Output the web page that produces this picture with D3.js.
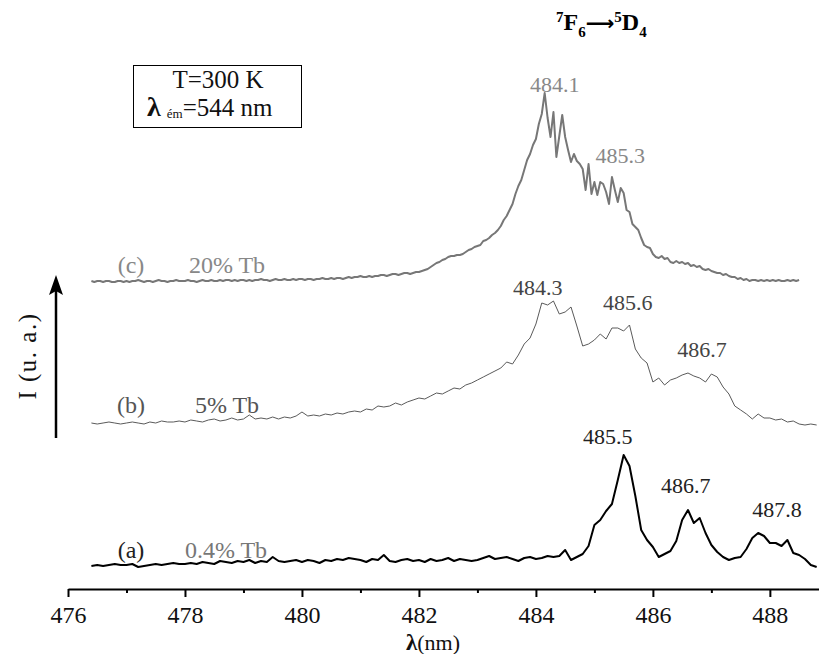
<!DOCTYPE html>
<html>
<head>
<meta charset="utf-8">
<script src="https://cdn.jsdelivr.net/npm/d3@7"></script>
<style>
  html, body { margin: 0; padding: 0; background: #fff; }
  svg { font-family: "Liberation Serif", "Times New Roman", serif; }
</style>
</head>
<body>
<svg id="chart" width="819" height="654"></svg>
<script>
// ---------- DATA ----------
const lambdaStart = 476.4;          // nm, first sample of every series
const stepAB = 0.1;                 // nm, sampling of (a) and (b)
const stepC = 0.05;                 // nm, sampling of (c)
const majorTicks = [476, 478, 480, 482, 484, 486, 488];
const minorTicks = [477, 479, 481, 483, 485, 487];

// (a) 0.4% Tb  — intensity (a.u.)
const seriesA = [
  0,1,0,1,2,1,
  1,2,-1,0,1,2,1,2,3,2,
  2,3,2,4,3,2,5,4,3,5,
  4,6,3,5,4,9,5,4,5,6,
  4,6,5,3,6,5,7,6,8,7,
  6,4,7,6,11,5,4,6,7,5,
  6,4,7,5,6,8,5,7,6,5,
  6,8,10,7,8,9,7,5,8,9,
  7,8,10,9,10,16,6,9,12,20,
  41,46,55,62,86,111,100,70,36,26,
  19,9,12,15,25,46,56,43,48,33,
  21,14,9,6,8,9,17,28,33,30,
  23,23,20,26,13,11,7,1,-1
];
// (b) 5% Tb
const seriesB = [
  1,0,1,2,1,0,
  1,2,1,0,2,1,3,2,2,3,
  2,4,3,2,4,5,3,4,6,4,
  5,9,5,6,5,7,5,7,6,8,
  12,8,9,8,10,9,11,10,12,13,
  12,15,14,18,17,18,21,19,22,24,
  26,25,28,31,30,33,36,35,39,41,
  44,47,50,53,56,62,60,69,80,86,
  100,121,119,123,110,112,117,98,78,80,
  84,90,85,96,96,93,99,75,66,61,
  42,46,39,44,46,49,51,48,46,42,
  50,47,37,30,18,14,10,5,10,6,
  6,4,5,2,3,0,-1,0,-1
];
// (c) 20% Tb
const seriesC = [
  1,0,1,1,0,1,1,0,0,1,1,0,
  1,0,1,1,2,1,0,1,1,0,1,2,1,1,0,1,1,2,1,1,
  1,2,1,1,0,1,2,1,1,2,1,1,2,1,2,2,1,2,1,2,
  2,1,2,1,2,2,3,2,2,1,2,3,2,2,3,2,2,3,2,3,
  3,2,3,3,2,3,3,4,3,3,4,3,4,4,3,4,5,4,5,5,
  6,5,5,6,5,6,6,7,7,6,7,8,8,7,8,9,9,8,9,10,
  10,11,12,13,15,17,19,20,22,23,25,26,26,27,27,28,30,32,33,35,
  36,37,41,42,44,47,49,52,56,62,66,72,78,88,96,102,112,122,128,137,
  143,158,168,189,164,145,170,125,146,167,145,132,120,128,121,118,113,92,118,88,
  100,87,100,98,90,78,105,92,80,94,89,72,70,58,55,52,44,37,35,34,
  28,25,24,26,23,24,20,19,21,19,20,18,19,16,17,15,16,13,12,13,
  11,10,9,9,7,8,6,5,5,3,4,2,3,1,2,2,1,2,1,2,
  1,2,1,2,1,1,2,1,2,1,2
];
const seriesNames = ["(a)", "(b)", "(c)"];
const seriesLabels = ["0.4% Tb", "5% Tb", "20% Tb"];
const seriesOffsets = [34, 176, 318];   // vertical stacking offset (a.u.)
const peaksA = ["485.5", "486.7", "487.8"];
const peaksB = ["484.3", "485.6", "486.7"];
const peaksC = ["484.1", "485.3"];

// ---------- SCALES ----------
const FONT = "'Liberation Serif', 'Times New Roman', serif";
const svg = d3.select("#chart");
const x = d3.scaleLinear().domain([476, 488.84]).range([68, 819]);
const y = d3.scaleLinear().domain([0, 520]).range([600, 80]);
const axisY = 589;

function toPoints(vals, step, off) {
  return vals.map((v, i) => [lambdaStart + i * step, v + off]);
}
const line = d3.line().x(d => x(d[0])).y(d => y(d[1]));

const series = [
  {vals: seriesA, step: stepAB, stroke: "#000", width: 2},
  {vals: seriesB, step: stepAB, stroke: "#5a5a5a", width: 1},
  {vals: seriesC, step: stepC, stroke: "#777", width: 2}
];
series.forEach((s, k) => {
  svg.append("path")
    .attr("d", line(toPoints(s.vals, s.step, seriesOffsets[k])))
    .attr("fill", "none")
    .attr("stroke", s.stroke)
    .attr("stroke-width", s.width)
    .attr("stroke-linejoin", "round");
});

// ---------- AXIS ----------
const gx = svg.append("g").attr("transform", `translate(0,${axisY})`);
gx.call(d3.axisBottom(x).tickValues(majorTicks).tickSize(8).tickSizeOuter(0)
  .tickPadding(9).tickFormat(d3.format("d")));
gx.attr("font-family", FONT).attr("font-size", 24);
gx.select(".domain").attr("stroke-width", 2);
gx.selectAll(".tick line").attr("stroke-width", 2);
gx.selectAll(".tick text").attr("fill", "#111");
const gm = svg.append("g").attr("transform", `translate(0,${axisY})`);
gm.call(d3.axisBottom(x).tickValues(minorTicks).tickSize(4).tickSizeOuter(0).tickFormat(""));
gm.select(".domain").remove();
gm.selectAll(".tick line").attr("stroke-width", 2);

// x title
const xt = svg.append("text").attr("x", 433).attr("y", 650).attr("text-anchor", "middle")
  .attr("font-size", 22).attr("fill", "#111");
xt.append("tspan").attr("font-weight", "bold").attr("font-size", 23).text("λ");
xt.append("tspan").text("(nm)");

// y label + arrow
svg.append("text").attr("transform", "translate(36,356) rotate(-90)")
  .attr("text-anchor", "middle").attr("font-size", 25).attr("letter-spacing", 1.5)
  .attr("fill", "#111").text("I (u. a.)");
svg.append("line").attr("x1", 56).attr("x2", 56).attr("y1", 438).attr("y2", 290)
  .attr("stroke", "#000").attr("stroke-width", 2.5);
svg.append("path").attr("d", "M56,275 L63,295 L56,291 L49,295 Z").attr("fill", "#000");

// title
const tt = svg.append("text").attr("x", 556).attr("y", 30).attr("font-weight", "bold")
  .attr("font-size", 24).attr("fill", "#000");
tt.append("tspan").attr("font-size", 15).attr("dy", -8).text("7");
tt.append("tspan").attr("dy", 8).text("F");
tt.append("tspan").attr("font-size", 15).attr("dy", 7).text("6");
tt.append("tspan").attr("dy", -7).attr("font-family", "DejaVu Sans").attr("font-size", 20).text("⟶");
tt.append("tspan").attr("font-size", 15).attr("dy", -8).text("5");
tt.append("tspan").attr("dy", 8).text("D");
tt.append("tspan").attr("font-size", 15).attr("dy", 7).text("4");

// box
svg.append("rect").attr("x", 133.5).attr("y", 65.5).attr("width", 168).attr("height", 62)
  .attr("fill", "#fff").attr("stroke", "#000").attr("stroke-width", 1);
svg.append("text").attr("x", 218).attr("y", 88).attr("text-anchor", "middle")
  .attr("font-size", 25).attr("fill", "#111").text("T=300 K");
const bt = svg.append("text").attr("x", 147).attr("y", 116).attr("font-size", 25).attr("fill", "#111");
bt.append("tspan").attr("font-weight", "bold").attr("font-size", 28).text("λ");
bt.append("tspan").attr("font-size", 13).attr("dx", 6).attr("dy", 2).text("ém");
bt.append("tspan").attr("dy", -2).text("=544 nm");

// series labels
const lab = [
  {name: seriesNames[0], label: seriesLabels[0], ny: 558, c1: "#222", c2: "#777"},
  {name: seriesNames[1], label: seriesLabels[1], ny: 413, c1: "#555", c2: "#555"},
  {name: seriesNames[2], label: seriesLabels[2], ny: 273, c1: "#888", c2: "#888"}
];
lab.forEach(l => {
  svg.append("text").attr("x", 131).attr("y", l.ny).attr("text-anchor", "middle")
    .attr("font-size", 24).attr("fill", l.c1).text(l.name);
  svg.append("text").attr("x", l.name === "(a)" ? 226 : 227).attr("y", l.ny).attr("text-anchor", "middle")
    .attr("font-size", 24).attr("fill", l.c2).text(l.label);
});

// peak labels (placed at their wavelength, above peak)
function peak(txt, lamCenter, baseline, color) {
  svg.append("text").attr("x", x(lamCenter)).attr("y", baseline).attr("text-anchor", "middle")
    .attr("font-size", 22).attr("fill", color).text(txt);
}
peak(peaksC[0], 484.32, 92, "#888");
peak(peaksC[1], 485.44, 163, "#888");
peak(peaksB[0], 484.03, 295, "#444");
peak(peaksB[1], 485.57, 310, "#444");
peak(peaksB[2], 486.84, 357, "#444");
peak(peaksA[0], 485.23, 444, "#222");
peak(peaksA[1], 486.56, 493, "#222");
peak(peaksA[2], 488.12, 517, "#222");

svg.selectAll("text").filter(function() { return !this.getAttribute("font-family"); })
  .attr("font-family", FONT);
</script>
</body>
</html>
